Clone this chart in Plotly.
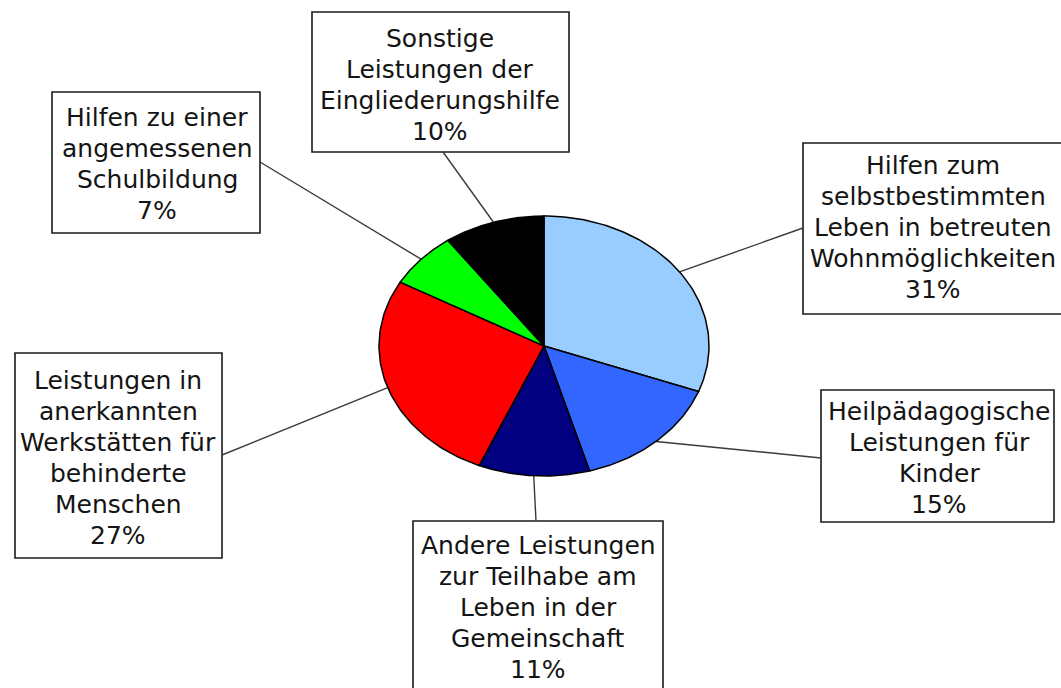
import numpy as np
import plotly.graph_objects as go

# ---- data ----
labels = [
    "Hilfen zum<br>selbstbestimmten<br>Leben in betreuten<br>Wohnmöglichkeiten",
    "Heilpädagogische<br>Leistungen für<br>Kinder",
    "Andere Leistungen<br>zur Teilhabe am<br>Leben in der<br>Gemeinschaft",
    "Leistungen in<br>anerkannten<br>Werkstätten für<br>behinderte<br>Menschen",
    "Hilfen zu einer<br>angemessenen<br>Schulbildung",
    "Sonstige<br>Leistungen der<br>Eingliederungshilfe",
]
values = [31, 15, 11, 27, 7, 10]
colors = ["#99CCFF", "#3366FF", "#000080", "#FF0000", "#00FF00", "#000000"]

# ---- layout constants (pixel space) ----
W, H = 1061, 688
CX, CY, RX, RY = 544, 346, 165, 130
boxes = [(803, 143, 1075, 314), (821, 390, 1054, 522), (413, 521, 663, 700),
         (15, 353, 222, 558), (52, 92, 260, 233), (312, 12, 569, 152)]
anchors = [(803, 228), (821, 458), (536, 521), (222, 455), (260, 162), (443, 152)]
text_x = [933, 939, 538, 118, 157, 440]
text_top = [165, 411, 545, 380, 117, 38]
LINE_H = 31
FONT = dict(family="DejaVu Sans", size=25, color="#141414")

fig = go.Figure()

total = float(sum(values))
cum = np.concatenate([[0], np.cumsum(values)]) / total

# leader lines
for i in range(len(values)):
    mid = 2 * np.pi * (cum[i] + cum[i + 1]) / 2
    sx = CX + RX * np.sin(mid)
    sy = CY - RY * np.cos(mid)
    ax, ay = anchors[i]
    fig.add_trace(go.Scatter(x=[sx, ax], y=[sy, ay], mode="lines",
                             line=dict(color="#3a3a3a", width=1.4),
                             hoverinfo="skip", showlegend=False))

# pie slices (ellipse)
for i in range(len(values)):
    t = np.linspace(2 * np.pi * cum[i], 2 * np.pi * cum[i + 1], 80)
    xs = np.concatenate([[CX], CX + RX * np.sin(t), [CX]])
    ys = np.concatenate([[CY], CY - RY * np.cos(t), [CY]])
    fig.add_trace(go.Scatter(x=xs, y=ys, mode="lines", fill="toself",
                             fillcolor=colors[i],
                             line=dict(color="#000000", width=1.5),
                             name=labels[i].replace("<br>", " "),
                             hoverinfo="name", showlegend=False))

shapes = []
annotations = []
for i in range(len(values)):
    x0, y0, x1, y1 = boxes[i]
    shapes.append(dict(type="rect", xref="x", yref="y", x0=x0, y0=y0, x1=x1, y1=y1,
                       line=dict(color="#1a1a1a", width=1.6), fillcolor="white",
                       layer="below"))
    lines = labels[i].split("<br>") + [f"{values[i]}%"]
    for j, ln in enumerate(lines):
        annotations.append(dict(x=text_x[i], y=text_top[i] + j * LINE_H,
                                xref="x", yref="y", text=ln, showarrow=False,
                                xanchor="center", yanchor="middle", font=FONT))

fig.update_layout(
    width=W, height=H,
    margin=dict(l=0, r=0, t=0, b=0),
    paper_bgcolor="white", plot_bgcolor="white",
    xaxis=dict(range=[0, W], visible=False, fixedrange=True),
    yaxis=dict(range=[H, 0], visible=False, fixedrange=True),
    shapes=shapes, annotations=annotations,
    showlegend=False,
)

fig.write_html("out.html")
